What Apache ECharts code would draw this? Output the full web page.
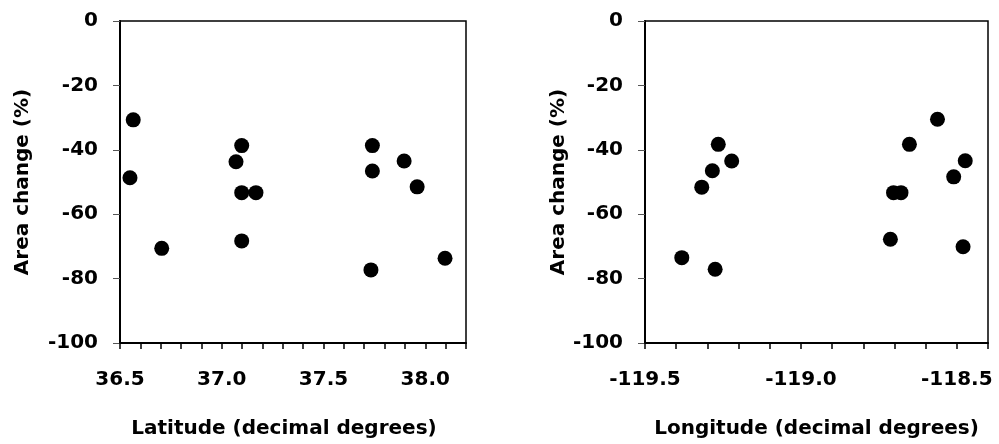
<!DOCTYPE html>
<html>
<head>
<meta charset="utf-8">
<script src="https://cdn.jsdelivr.net/npm/echarts@6/dist/echarts.min.js"></script>
<style>
  html, body { margin: 0; padding: 0; background: #fff; }
  #chart { width: 999px; height: 444px; }
</style>
</head>
<body>
<div id="chart"></div>
<script>
// Site latitude vs. area change
const latitude = [36.565, 36.549, 36.705, 37.07, 37.098, 37.098, 37.168, 37.098, 37.74, 37.74, 37.733, 37.896, 37.96, 38.097];
const areaChangeLat = [-30.7, -48.7, -70.6, -43.7, -38.7, -53.3, -53.3, -68.3, -38.7, -46.6, -77.3, -43.5, -51.5, -73.7];

// Site longitude vs. area change
const longitude = [-119.382, -119.318, -119.284, -119.275, -119.265, -119.222, -118.713, -118.703, -118.679, -118.652, -118.562, -118.51, -118.48, -118.473];
const areaChangeLon = [-73.5, -51.6, -46.5, -77.1, -38.3, -43.5, -67.8, -53.3, -53.3, -38.3, -30.5, -48.4, -70.1, -43.4];

// Axis ranges and labelled ticks
const latRange = [36.5, 38.2];
const lonRange = [-119.5, -118.4];
const yRange = [-100, 0];
const latTickLabels = [36.5, 37.0, 37.5, 38.0];
const lonTickLabels = [-119.5, -119.0, -118.5];

const FONT = '"DejaVu Sans", sans-serif';

function pairs(xs, ys) { return xs.map((x, i) => [x, ys[i]]); }

function xAxisFor(idx, range, labels, title, shiftLeft) {
  return {
    type: 'value', gridIndex: idx, min: range[0], max: range[1], interval: 0.1,
    name: title, nameLocation: 'middle', nameGap: 76,
    nameTextStyle: { fontFamily: FONT, fontWeight: 'bold', fontSize: 20, color: '#000',
                     padding: [0, shiftLeft * 2, 0, 0] },
    axisLine: { show: true, onZero: false, lineStyle: { color: '#000', width: 2 } },
    axisTick: { show: true, length: 6, lineStyle: { color: '#000', width: 1.5 } },
    splitLine: { show: false },
    axisLabel: {
      interval: 0, margin: 27, showMinLabel: true, showMaxLabel: true,
      fontFamily: FONT, fontWeight: 'bold', fontSize: 20, color: '#000',
      formatter: v => labels.some(l => Math.abs(l - v) < 1e-6) ? v.toFixed(1) : ''
    }
  };
}

function yAxisFor(idx, gap) {
  return {
    type: 'value', gridIndex: idx, min: yRange[0], max: yRange[1], interval: 20,
    name: 'Area change (%)', nameLocation: 'middle', nameGap: gap, nameRotate: 90,
    nameTextStyle: { fontFamily: FONT, fontWeight: 'bold', fontSize: 20, color: '#000' },
    axisLine: { show: true, onZero: false, lineStyle: { color: '#000', width: 2 } },
    axisTick: { show: true, length: 7, lineStyle: { color: '#555', width: 1 } },
    splitLine: { show: false },
    axisLabel: { margin: 22, fontFamily: FONT, fontWeight: 'bold', fontSize: 20, color: '#000' }
  };
}

const dotStyle = { color: '#000', opacity: 1 };

const chart = echarts.init(document.getElementById('chart'), null, { renderer: 'canvas' });
chart.setOption({
  animation: false,
  backgroundColor: '#fff',
  grid: [
    { left: 120, top: 21, width: 346, height: 322, show: true, borderColor: '#000', borderWidth: 1.5 },
    { left: 645, top: 21, width: 343, height: 322, show: true, borderColor: '#000', borderWidth: 1.5 }
  ],
  xAxis: [
    xAxisFor(0, latRange, latTickLabels, 'Latitude (decimal degrees)', 9),
    xAxisFor(1, lonRange, lonTickLabels, 'Longitude (decimal degrees)', 0)
  ],
  yAxis: [yAxisFor(0, 87), yAxisFor(1, 68)],
  series: [
    { type: 'scatter', xAxisIndex: 0, yAxisIndex: 0, data: pairs(latitude, areaChangeLat),
      symbol: 'circle', symbolSize: 15, itemStyle: dotStyle },
    { type: 'scatter', xAxisIndex: 1, yAxisIndex: 1, data: pairs(longitude, areaChangeLon),
      symbol: 'circle', symbolSize: 15, itemStyle: dotStyle }
  ]
});
</script>
</body>
</html>
